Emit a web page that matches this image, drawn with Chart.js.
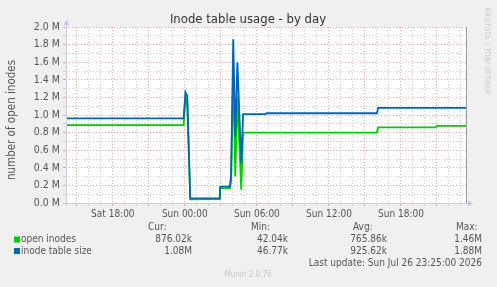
<!DOCTYPE html>
<html>
<head>
<meta charset="utf-8">
<script src="https://cdn.jsdelivr.net/npm/chart.js@4/dist/chart.umd.min.js"></script>
<style>
  body { margin: 0; background: #f0f0f0; }
  canvas { display: block; }
</style>
</head>
<body>
<canvas id="chartInode" width="497" height="287"></canvas>
<script>
// horas relativas a Sun 00:00
var horas         = [-9.9, -0.1, 0.05, 0.2, 0.45, 2.9, 2.95, 3.75, 3.85, 4.03, 4.2, 4.375, 4.7, 4.85, 6.75, 6.8, 16.0, 16.1, 20.9, 21.0, 23.5];
// valores em milhoes
var openInodes    = [0.886, 0.886, 1.21, 1.10, 0.042, 0.045, 0.17, 0.17, 0.25, 1.46, 0.30, 1.20, 0.15, 0.80, 0.80, 0.80, 0.80, 0.86, 0.86, 0.876, 0.876];
var inodeTable    = [0.962, 0.962, 1.258, 1.22, 0.053, 0.053, 0.185, 0.185, 0.32, 1.86, 0.75, 1.60, 0.45, 1.01, 1.01, 1.02, 1.02, 1.08, 1.08, 1.08, 1.08];

var rotulosX = { "-6": "Sat 18:00", "0": "Sun 00:00", "6": "Sun 06:00", "12": "Sun 12:00", "18": "Sun 18:00" };
var legendaNomes = ["open inodes", "inode table size"];
var legendaCores = ["#00cc00", "#0066b3"];
var valoresCur = ["876.02k", "1.08M"];
var valoresMin = ["42.04k", "46.77k"];
var valoresAvg = ["765.86k", "925.62k"];
var valoresMax = ["1.46M", "1.88M"];

var fonte = "'DejaVu Sans Condensed', 'Liberation Sans', sans-serif";
var corMaior = "rgba(240,150,150,0.85)";
var corMenor = "rgba(200,200,200,0.85)";

function pontos(valores) {
    return horas.map(function(h, i) { return { x: h, y: valores[i] }; });
}

var gradeX = [];
for (var h = -9; h <= 23; h++) gradeX.push(h);
var gradeY = [];
for (var k = 0; k <= 20; k++) gradeY.push(k / 10);

function texto(ctx, s, x, y, cor, tam, alinh) {
    ctx.fillStyle = cor;
    ctx.font = tam + "px " + fonte;
    ctx.textAlign = alinh || "left";
    ctx.textBaseline = "middle";
    ctx.fillText(s, x, y);
}

var molduraPlugin = {
    id: "moldura",
    beforeDraw: function(chart) {
        var ctx = chart.ctx, a = chart.chartArea;
        ctx.save();
        ctx.fillStyle = "#f0f0f0";
        ctx.fillRect(0, 0, chart.width, chart.height);
        ctx.fillStyle = "#ffffff";
        ctx.fillRect(a.left, a.top, a.right - a.left, a.bottom - a.top);
        ctx.restore();
    },
    afterDraw: function(chart) {
        var ctx = chart.ctx, a = chart.chartArea;
        ctx.save();
        // eixos
        ctx.strokeStyle = "#c8cce8";
        ctx.lineWidth = 1;
        ctx.beginPath();
        ctx.moveTo(a.left + 0.5, a.bottom + 3);
        ctx.lineTo(a.left + 0.5, a.top - 4);
        ctx.moveTo(a.left - 3, a.bottom + 0.5);
        ctx.lineTo(a.right + 3, a.bottom + 0.5);
        ctx.stroke();
        ctx.fillStyle = "#c0c8f0";
        ctx.beginPath();
        ctx.moveTo(a.left - 2.5, a.top - 2);
        ctx.lineTo(a.left + 3.5, a.top - 2);
        ctx.lineTo(a.left + 0.5, a.top - 7);
        ctx.closePath();
        ctx.fill();
        ctx.beginPath();
        ctx.moveTo(a.right + 1, a.bottom - 2.5);
        ctx.lineTo(a.right + 1, a.bottom + 3.5);
        ctx.lineTo(a.right + 6, a.bottom + 0.5);
        ctx.closePath();
        ctx.fill();
        ctx.strokeStyle = "#999999";
        ctx.beginPath();
        ctx.moveTo(a.right - 0.5, a.top);
        ctx.lineTo(a.right - 0.5, a.bottom);
        ctx.stroke();

        // titulos
        texto(ctx, "Inode table usage - by day", 248, 20, "#333333", 13, "center");
        ctx.save();
        ctx.translate(12, 120);
        ctx.rotate(-Math.PI / 2);
        texto(ctx, "number of open inodes", 0, 0, "#555555", 11.5, "center");
        ctx.restore();
        ctx.save();
        ctx.translate(487, 51);
        ctx.rotate(Math.PI / 2);
        texto(ctx, "RRDTOOL / TOBI OETIKER", 0, 0, "#c8c8c8", 7.5, "center");
        ctx.restore();

        // legenda
        texto(ctx, "Cur:", 148, 227, "#555555", 10);
        texto(ctx, "Min:", 251, 227, "#555555", 10);
        texto(ctx, "Avg:", 353, 227, "#555555", 10);
        texto(ctx, "Max:", 456, 227, "#555555", 10);
        for (var i = 0; i < legendaNomes.length; i++) {
            var y = 239.5 + i * 11.5;
            ctx.fillStyle = legendaCores[i];
            ctx.fillRect(14, y - 3, 6, 6);
            texto(ctx, legendaNomes[i], 21, y, "#555555", 10);
            texto(ctx, valoresCur[i], 192, y, "#555555", 10, "right");
            texto(ctx, valoresMin[i], 288, y, "#555555", 10, "right");
            texto(ctx, valoresAvg[i], 387, y, "#555555", 10, "right");
            texto(ctx, valoresMax[i], 482, y, "#555555", 10, "right");
        }
        texto(ctx, "Last update: Sun Jul 26 23:25:00 2026", 482, 263, "#555555", 10, "right");
        texto(ctx, "Munin 2.0.76", 248, 275, "#c8c8c8", 8, "center");
        ctx.restore();
    }
};

var ctx = document.getElementById("chartInode").getContext("2d");
var myChart = new Chart(ctx, {
    type: "line",
    data: {
        datasets: [{
            label: "open inodes",
            data: pontos(openInodes),
            borderColor: "#00cc00",
            borderWidth: 1.8,
            pointRadius: 0,
            fill: false,
            tension: 0,
            order: 1
        }, {
            label: "inode table size",
            data: pontos(inodeTable),
            borderColor: "#0066b3",
            borderWidth: 1.8,
            pointRadius: 0,
            fill: false,
            tension: 0,
            order: 0
        }]
    },
    options: {
        responsive: false,
        animation: false,
        events: [],
        layout: { padding: { top: 27, right: 30, left: 0, bottom: 0 } },
        plugins: { legend: { display: false }, title: { display: false }, tooltip: { enabled: false } },
        scales: {
            x: {
                type: "linear",
                min: -9.9,
                max: 23.5,
                afterBuildTicks: function(s) { s.ticks = gradeX.map(function(v) { return { value: v }; }); },
                afterFit: function(s) { s.height = 84; },
                border: { display: false, dash: [1, 2] },
                grid: {
                    color: function(c) { return c.tick && c.tick.value % 3 === 0 ? corMaior : corMenor; },
                    tickColor: function(c) { return c.tick && c.tick.value % 3 === 0 ? corMaior : corMenor; },
                    tickLength: 3,
                    lineWidth: 1
                },
                ticks: {
                    autoSkip: false,
                    maxRotation: 0,
                    padding: 2,
                    color: "#555555",
                    font: { family: fonte, size: 10 },
                    callback: function(v) { return rotulosX[String(v)] || ""; }
                }
            },
            y: {
                min: 0,
                max: 2.0,
                afterBuildTicks: function(s) { s.ticks = gradeY.map(function(v) { return { value: v }; }); },
                afterFit: function(s) { s.width = 66; },
                border: { display: false, dash: [1, 2] },
                grid: {
                    color: function(c) { return c.tick && Math.round(c.tick.value * 10) % 2 === 0 ? corMaior : corMenor; },
                    tickColor: function(c) { return c.tick && Math.round(c.tick.value * 10) % 2 === 0 ? corMaior : corMenor; },
                    tickLength: 3,
                    lineWidth: 1
                },
                ticks: {
                    autoSkip: false,
                    padding: 3,
                    color: "#555555",
                    font: { family: fonte, size: 10.5 },
                    callback: function(v) { return Math.round(v * 10) % 2 === 0 ? v.toFixed(1) + " M" : ""; }
                }
            }
        }
    },
    plugins: [molduraPlugin]
});
</script>
</body>
</html>
